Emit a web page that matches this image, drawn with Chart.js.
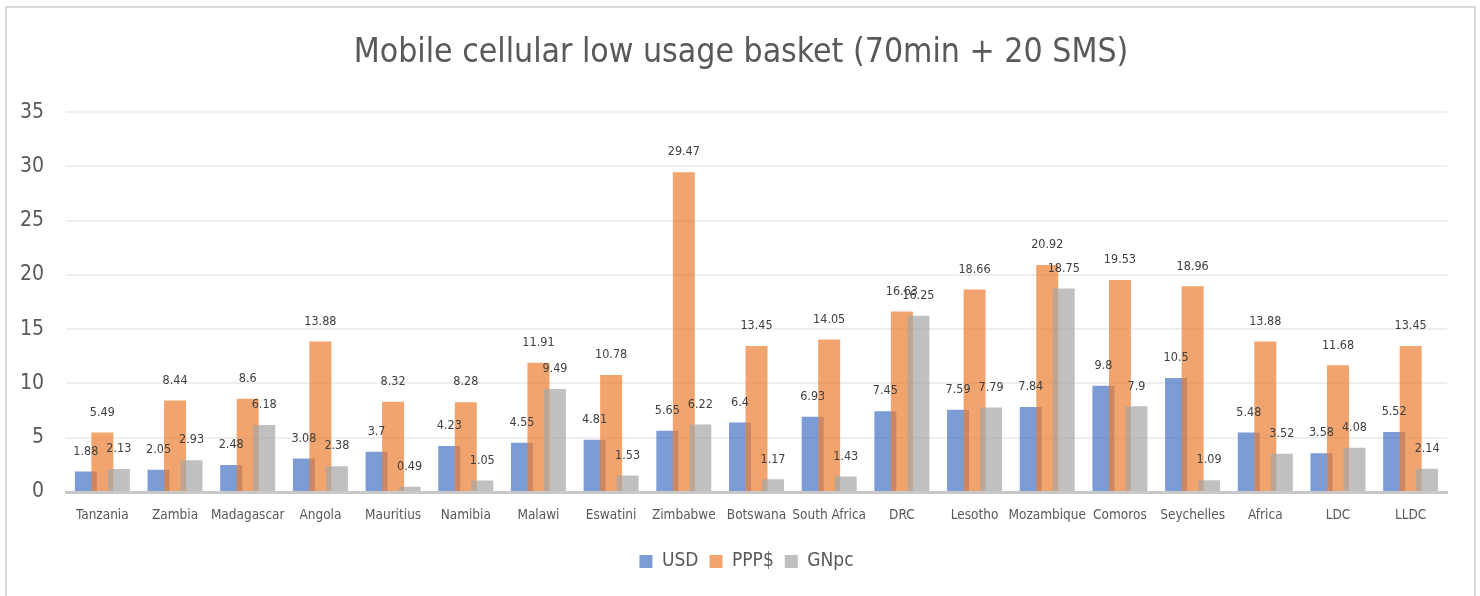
<!DOCTYPE html>
<html>
<head>
<meta charset="utf-8">
<script src="https://cdn.jsdelivr.net/npm/chart.js@4.4.1/dist/chart.umd.min.js"></script>
<style>
  html, body { margin: 0; padding: 0; background: #ffffff; overflow: hidden; }
  #wrap { position: absolute; left: 0; top: 0; width: 1480px; height: 596px; }
  #frame { position: absolute; left: 5px; top: 6px; width: 1471px; height: 700px; box-sizing: border-box;
           border: 2px solid #d9d9d9; pointer-events: none; }
</style>
</head>
<body>
<div id="wrap"><canvas id="c" width="1480" height="596"></canvas></div>
<div id="frame"></div>
<script>
const categories = ["Tanzania","Zambia","Madagascar","Angola","Mauritius","Namibia","Malawi","Eswatini","Zimbabwe","Botswana","South Africa","DRC","Lesotho","Mozambique","Comoros","Seychelles","Africa","LDC","LLDC"];
const usd  = [1.88, 2.05, 2.48, 3.08, 3.7, 4.23, 4.55, 4.81, 5.65, 6.4, 6.93, 7.45, 7.59, 7.84, 9.8, 10.5, 5.48, 3.58, 5.52];
const ppp  = [5.49, 8.44, 8.6, 13.88, 8.32, 8.28, 11.91, 10.78, 29.47, 13.45, 14.05, 16.63, 18.66, 20.92, 19.53, 18.96, 13.88, 11.68, 13.45];
const gnpc = [2.13, 2.93, 6.18, 2.38, 0.49, 1.05, 9.49, 1.53, 6.22, 1.17, 1.43, 16.25, 7.79, 18.75, 7.9, 1.09, 3.52, 4.08, 2.14];
const seriesNames = ["USD", "PPP$", "GNpc"];
const yTicks = [0, 5, 10, 15, 20, 25, 30, 35];
const titleText = "Mobile cellular low usage basket (70min + 20 SMS)";

const FONT = '"Liberation Sans Narrow", "DejaVu Sans Condensed", "Arial Narrow", sans-serif';

const drawOrderPlugin = {
  id: 'drawOrder',
  afterLayout(chart) {
    if (chart.titleBlock) chart.titleBlock.left += 35;
    if (chart.legend) chart.legend.left += 46;
  },
  beforeDatasetsDraw(chart) {
    const metas = chart.getSortedVisibleDatasetMetas();
    for (let i = 0; i < metas.length; i++) chart._drawDataset(metas[i]);
    const ctx = chart.ctx;
    ctx.save();
    ctx.font = '12.5px ' + FONT;
    ctx.fillStyle = '#404040';
    ctx.textAlign = 'center';
    ctx.textBaseline = 'middle';
    metas.forEach(meta => {
      const ds = chart.data.datasets[meta.index];
      meta.data.forEach((bar, i) => {
        ctx.fillText(String(ds.data[i]), bar.x, bar.y - 20);
      });
    });
    ctx.restore();
    return false;
  }
};

new Chart(document.getElementById('c'), {
  type: 'bar',
  data: {
    labels: categories,
    datasets: [
      { label: seriesNames[0], data: usd,  backgroundColor: 'rgba(68,114,196,0.7)' },
      { label: seriesNames[1], data: ppp,  backgroundColor: 'rgba(237,125,49,0.7)' },
      { label: seriesNames[2], data: gnpc, backgroundColor: 'rgba(165,165,165,0.7)' }
    ]
  },
  options: {
    responsive: false,
    animation: false,
    devicePixelRatio: 1,
    categoryPercentage: 0.681,
    barPercentage: 1.333,
    layout: { padding: { left: 0, right: 33, top: 0, bottom: 15 } },
    plugins: {
      title: {
        display: true,
        text: titleText,
        color: '#595959',
        font: { family: FONT, size: 33.5, weight: 'normal' },
        padding: { top: 33, bottom: 39 }
      },
      legend: {
        position: 'bottom',
        labels: {
          boxWidth: 13, boxHeight: 13,
          color: '#595959',
          font: { family: FONT, size: 19 },
          padding: 11
        }
      },
      tooltip: { enabled: false }
    },
    scales: {
      x: {
        grid: { display: false },
        border: { display: true, color: '#c8c8c8', width: 3 },
        ticks: { color: '#595959', font: { family: FONT, size: 13.5 }, maxRotation: 0, autoSkip: false, padding: 7 },
        afterFit(scale) { scale.height = 49; }
      },
      y: {
        min: 0, max: 35,
        afterBuildTicks(scale) { scale.ticks = yTicks.map(v => ({ value: v })); },
        grid: { color: '#efefef', lineWidth: 2, drawTicks: false },
        border: { display: false },
        ticks: { color: '#595959', font: { family: FONT, size: 21 }, padding: 22 },
        afterFit(scale) { scale.width = 66; }
      }
    }
  },
  plugins: [drawOrderPlugin]
});
</script>
</body>
</html>
